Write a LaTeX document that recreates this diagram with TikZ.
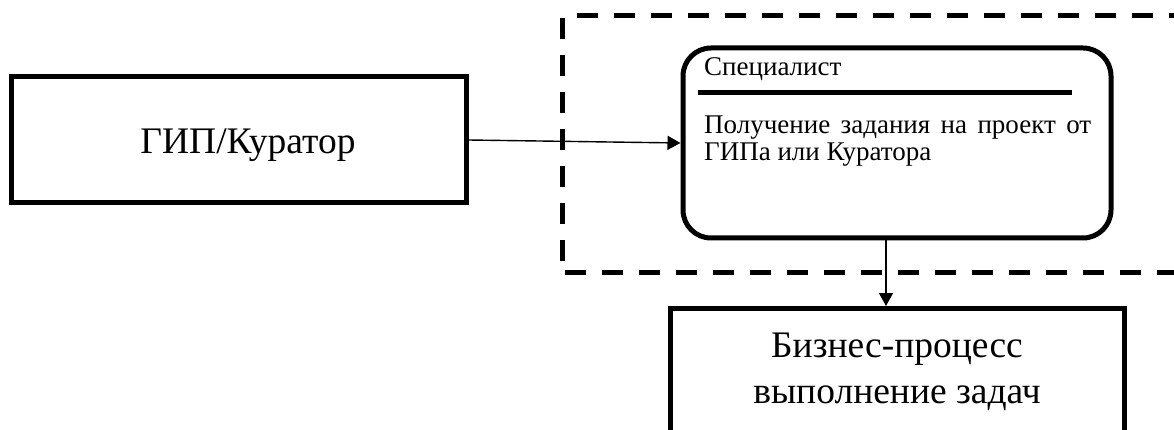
\documentclass[tikz,border=0pt]{standalone}
\usepackage{fontspec}
\setmainfont{Liberation Serif}
\usetikzlibrary{arrows.meta}

\tikzset{
  block/.style={draw, line width=5pt, inner sep=0pt, minimum width=#1},
  bigtext/.style={font=\fontsize{37.5}{46}\selectfont, align=center, inner sep=0pt},
  smalltext/.style={font=\fontsize{27}{27}\selectfont, inner sep=0pt},
  link/.style={line width=1.4pt, -{Triangle[length=13pt,width=14pt]}},
  laneborder/.style={line width=5pt, dash pattern=on 21pt off 16pt},
}

\begin{document}
\begin{tikzpicture}[x=1pt, y=-1pt]
\useasboundingbox (0,0) rectangle (1174,430);

% swimlane border, open on the right
\coordinate (laneTL) at (562,16);
\draw[laneborder] (577,16) -- (1190,16);
\draw[laneborder] (562,18) -- (562,274);
\draw[laneborder] (565,272) -- (1190,272);

% source
\node[block=455pt, minimum height=126pt] (gip) at (238.5,140) {};
\node[bigtext, anchor=base] (giptext) at (248,154) {ГИП/Куратор};

% activity card
\node[block=428pt, minimum height=190pt, rounded corners=28pt] (spec) at (897,143) {};
\node[smalltext, anchor=base west] (role) at (704,76) {Специалист};
\draw[line width=5pt] (698,93) coordinate (ruleL) -- (1072,93) coordinate (ruleR);
\node[smalltext, anchor=north west, text width=387pt, align=justify] (task) at (704,114)
  {\strut Получение задания на проект от\linebreak ГИПа или Куратора};

% target
\node[block=454pt, minimum height=140pt, anchor=north] (bp) at (897,306) {};
\node[bigtext, anchor=base] (bptext) at (897,403) {Бизнес-процесс\\выполнение задач};

% connectors
\draw[link] (gip.east) -- (spec.west);
\draw[link] ([xshift=-11pt]spec.south) -- ([xshift=-11pt]bp.north);
\end{tikzpicture}
\end{document}
